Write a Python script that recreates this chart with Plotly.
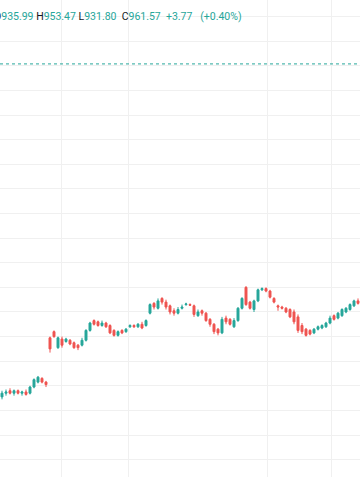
import plotly.graph_objects as go

# ---- data ----
opens = [691, 694, 696, 694, 696, 694, 695, 694, 699, 703, 706, 703,
         739, 744, 731, 738, 736, 737, 735, 733, 733, 737, 745, 753, 752, 749,
         751, 749, 745, 741, 745, 744, 748, 749, 748, 750, 749, 759, 767, 763,
         771, 768, 765, 761, 759, 763, 766, 766, 765, 757, 761, 759, 754, 750,
         746, 743, 755, 754, 748, 753, 763, 780, 768, 762, 769, 778, 779, 777,
         771, 765, 764, 763, 762, 760, 756, 749, 746, 745, 743, 746, 747, 748,
         751, 757, 755, 757, 760, 762, 765, 769]
highs = [696, 697, 698, 697, 697, 696, 697, 700, 706, 708, 707, 704,
         740, 745, 740, 740, 739, 738, 736, 734, 739, 746, 752, 754, 753, 753,
         752, 750, 746, 745, 746, 747, 750, 750, 751, 752, 754, 767, 768, 771,
         772, 770, 766, 763, 764, 766, 767.5, 767, 766, 762, 762, 760, 755, 751,
         747, 756, 757, 755, 755, 764, 772, 781, 769, 770, 779, 780, 780, 778,
         772, 766, 765, 764, 763, 762, 758, 751, 747, 746, 747, 749, 750, 752,
         757, 758, 760, 763, 764, 767, 770, 771]
lows = [689, 692, 693, 692, 693, 692, 692, 693, 698, 702, 702, 699,
        727, 739, 730, 731, 735, 733, 730, 729, 732, 736, 744, 749, 748, 748,
        747, 742, 740, 740, 742, 743, 747, 747, 747, 746, 748, 758, 762, 762,
        766, 762, 758, 757, 758, 762, 765, 765, 756, 756, 757, 752, 748, 742,
        741, 742, 750, 749, 747, 752, 762, 765, 762, 760, 768, 777, 776, 771,
        767, 761, 762, 759, 755, 750, 743, 742, 740, 741, 742, 745, 746, 747,
        750, 753, 754, 756, 759, 761, 764, 766]
closes = [694, 695, 694, 696, 694, 695, 693, 699, 705, 707, 703, 701,
          730, 740, 739, 733, 738, 734, 731, 731, 737, 745, 751, 750, 749, 751,
          748, 743, 741, 744, 743, 746, 749, 748, 750, 747, 753, 766, 764, 769,
          768, 764, 760, 759, 762, 764, 766.5, 765.5, 758, 760, 759, 753, 750, 744,
          743, 754, 752, 750, 753, 763, 771, 766, 763, 769, 778, 779, 777, 772,
          768, 764, 763, 760, 756, 752, 745, 744, 741, 742, 746, 748, 749, 751,
          755, 754, 759, 762, 763, 766, 769, 767]
x_index = list(range(len(opens)))

grid_x = [14.75, 31.5, 66.25, 82.25]          # time gridlines (bar index)
grid_y = list(range(640, 1001, 20))            # price gridlines
last_price = 961.57
legend_values = ["935.99", "953.47", "931.80", "961.57", "+3.77", "(+0.40%)"]

UP = "#26a69a"
DOWN = "#ef5350"

fig = go.Figure()
fig.add_trace(go.Candlestick(
    x=x_index, open=opens, high=highs, low=lows, close=closes,
    increasing=dict(line=dict(color=UP, width=1), fillcolor=UP),
    decreasing=dict(line=dict(color=DOWN, width=1), fillcolor=DOWN),
    whiskerwidth=0, showlegend=False, hoverinfo="skip",
))

fig.add_hline(y=last_price, line=dict(color=UP, width=1, dash="dot"))

sp = "&nbsp;"
legend_html = (
    f"<span style='color:#131722'>O</span>{legend_values[0]} "
    f"<span style='color:#131722'>H</span>{legend_values[1]} "
    f"<span style='color:#131722'>L</span>{legend_values[2]}{sp} "
    f"<span style='color:#131722'>C</span>{legend_values[3]}{sp} "
    f"{legend_values[4]}{sp}{sp} {legend_values[5]}"
)
fig.add_annotation(
    text=legend_html, xref="paper", yref="paper",
    x=-8 / 360, y=1 - 16 / 477, xanchor="left", yanchor="middle",
    showarrow=False, font=dict(family="Roboto", size=10.5, color=UP),
)

fig.update_layout(
    width=360, height=504,
    margin=dict(l=0, r=0, t=0, b=27),
    paper_bgcolor="white", plot_bgcolor="white",
    xaxis=dict(range=[-0.5, 89.5], tickvals=grid_x, showticklabels=False,
               showgrid=True, gridcolor="#f0f0f0", gridwidth=1,
               zeroline=False, rangeslider=dict(visible=False), fixedrange=True),
    yaxis=dict(range=[625.9, 1013.5], tickvals=grid_y, showticklabels=False,
               showgrid=True, gridcolor="#f0f0f0", gridwidth=1,
               zeroline=False, fixedrange=True),
)

fig.write_html("out.html", config={"displayModeBar": False},
               post_script="document.body.style.margin='0';")
